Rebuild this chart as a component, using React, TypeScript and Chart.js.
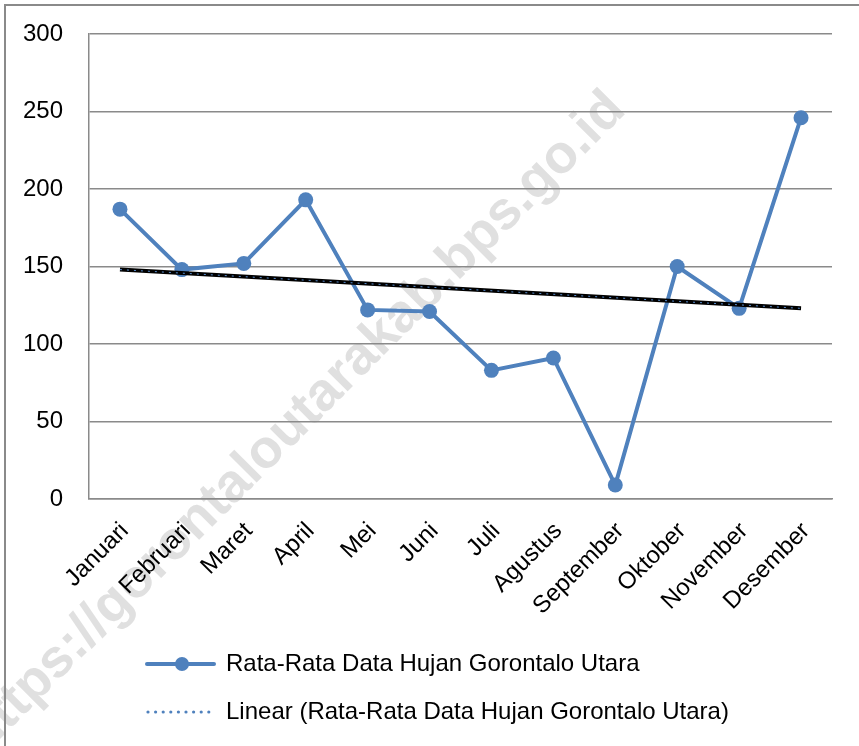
import { useEffect, useRef } from 'react';
import { Chart, registerables } from 'chart.js';

Chart.register(...registerables);

const months = ['Januari', 'Februari', 'Maret', 'April', 'Mei', 'Juni', 'Juli', 'Agustus', 'September', 'Oktober', 'November', 'Desember'];
const rainfall = [187, 148, 152, 193, 122, 121, 83, 91, 9, 150, 123, 246];
// linear trend line: start (Januari) and end (Desember) values
const trendline = [148, null, null, null, null, null, null, null, null, null, null, 123];
const yMin = 0;
const yMax = 300;
const yStep = 50;
const seriesLabel = 'Rata-Rata Data Hujan Gorontalo Utara';
const trendLabel = 'Linear (Rata-Rata Data Hujan Gorontalo Utara)';
const watermarkText = 'https://gorontaloutarakab.bps.go.id';

const BLUE = '#4F81BD';
const GRAY = '#8a8a8a';
const FONT = '"Liberation Sans", Arial, sans-serif';

function makeSeriesIcon() {
  const c = document.createElement('canvas');
  c.width = 71;
  c.height = 16;
  const ctx = c.getContext('2d')!;
  ctx.strokeStyle = BLUE;
  ctx.lineWidth = 4;
  ctx.lineCap = 'round';
  ctx.beginPath();
  ctx.moveTo(2, 8);
  ctx.lineTo(69, 8);
  ctx.stroke();
  ctx.fillStyle = BLUE;
  ctx.beginPath();
  ctx.arc(37, 8, 7, 0, Math.PI * 2);
  ctx.fill();
  return c;
}

function makeTrendIcon() {
  const c = document.createElement('canvas');
  c.width = 71;
  c.height = 16;
  const ctx = c.getContext('2d')!;
  ctx.fillStyle = BLUE;
  for (let i = 0; i < 9; i++) {
    ctx.beginPath();
    ctx.arc(3 + i * 7.6, 8, 1.6, 0, Math.PI * 2);
    ctx.fill();
  }
  return c;
}

const decorPlugin = {
  id: 'decor',
  beforeDraw(chart: any) {
    const ctx = chart.ctx;
    ctx.save();
    ctx.fillStyle = '#ffffff';
    ctx.fillRect(0, 0, chart.width, chart.height);
    // watermark
    ctx.translate(-26, 744);
    ctx.rotate(-Math.PI / 4);
    ctx.font = 'bold 54px ' + FONT;
    ctx.fillStyle = '#e0e0e0';
    ctx.textBaseline = 'middle';
    ctx.textAlign = 'left';
    ctx.fillText(watermarkText, 0, 0);
    ctx.restore();
    // outer frame
    ctx.save();
    ctx.strokeStyle = GRAY;
    ctx.lineWidth = 2;
    ctx.strokeRect(5, 5, chart.width + 20, chart.height + 20);
    ctx.restore();
    if (chart.legend) {
      chart.legend.left = 123;
    }
  },
};

export default function App() {
  const ref = useRef<HTMLCanvasElement | null>(null);

  useEffect(() => {
    document.body.style.margin = '0';
    const canvas = ref.current;
    if (!canvas) return;
    const seriesIcon = makeSeriesIcon();
    const trendIcon = makeTrendIcon();
    const chart = new Chart(canvas, {
      type: 'line',
      data: {
        labels: months,
        datasets: [
          {
            label: seriesLabel,
            data: rainfall,
            borderColor: BLUE,
            backgroundColor: BLUE,
            borderWidth: 4,
            pointRadius: 7.5,
            pointBackgroundColor: BLUE,
            pointBorderWidth: 0,
            tension: 0,
            order: 3,
          },
          {
            label: 'trend-base',
            data: trendline,
            borderColor: '#000000',
            borderWidth: 4,
            pointRadius: 0,
            spanGaps: true,
            order: 2,
          },
          {
            label: trendLabel,
            data: trendline,
            borderColor: '#5b8fd0',
            borderWidth: 1,
            borderDash: [2, 5],
            pointRadius: 0,
            spanGaps: true,
            order: 1,
          },
        ],
      },
      options: {
        responsive: false,
        animation: false,
        devicePixelRatio: 1,
        layout: { padding: { left: 0, top: 34, right: 27, bottom: 12 } },
        plugins: {
          tooltip: { enabled: false },
          legend: {
            position: 'bottom',
            align: 'start',
            labels: {
              usePointStyle: true,
              pointStyleWidth: 67,
              padding: 24,
              color: '#000000',
              font: { family: FONT, size: 24 },
              generateLabels: () => [
                {
                  text: seriesLabel,
                  pointStyle: seriesIcon,
                  fillStyle: BLUE,
                  strokeStyle: BLUE,
                  lineWidth: 0,
                  hidden: false,
                  datasetIndex: 0,
                  fontColor: '#000000',
                },
                {
                  text: trendLabel,
                  pointStyle: trendIcon,
                  fillStyle: BLUE,
                  strokeStyle: BLUE,
                  lineWidth: 0,
                  hidden: false,
                  datasetIndex: 2,
                  fontColor: '#000000',
                },
              ],
            },
          },
        },
        scales: {
          x: {
            offset: true,
            grid: { display: false },
            border: { display: true, color: GRAY, width: 1.5 },
            ticks: {
              color: '#000000',
              font: { family: FONT, size: 24 },
              maxRotation: 45,
              minRotation: 45,
              autoSkip: false,
              padding: 10,
              labelOffset: 5,
            },
            afterFit: (s: any) => {
              s.height = 129;
              s.paddingTop = 0;
              s.paddingBottom = 0;
            },
          },
          y: {
            min: yMin,
            max: yMax,
            grid: { color: GRAY, lineWidth: 1.5, drawTicks: false },
            border: { display: true, color: GRAY, width: 1.5 },
            ticks: {
              stepSize: yStep,
              color: '#000000',
              font: { family: FONT, size: 24 },
              padding: 26,
            },
            afterFit: (s: any) => {
              s.width = 89;
              s.paddingTop = 0;
              s.paddingBottom = 0;
            },
          },
        },
      },
      plugins: [decorPlugin],
    });
    return () => chart.destroy();
  }, []);

  return (
    <div style={{ width: 859, height: 746 }}>
      <canvas ref={ref} width={859} height={746} style={{ display: 'block' }} />
    </div>
  );
}
